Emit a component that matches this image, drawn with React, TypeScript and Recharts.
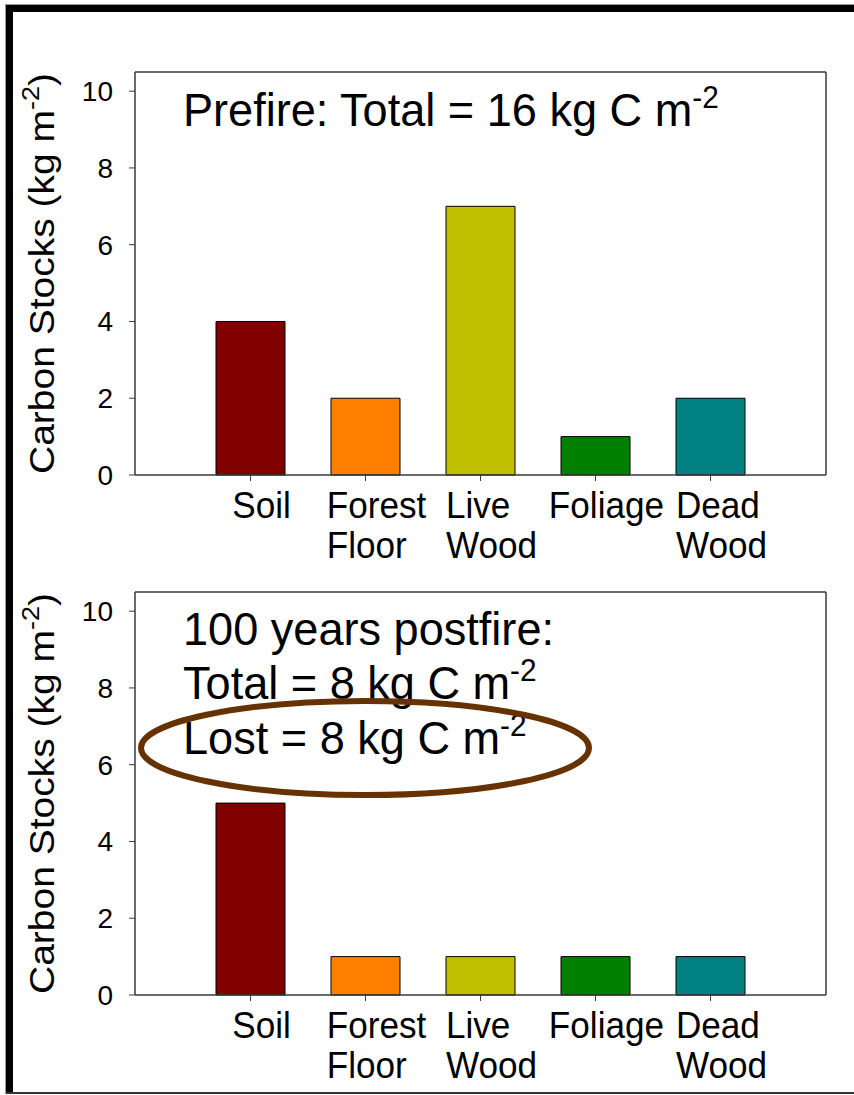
import React from 'react';
import { BarChart, Bar, XAxis, YAxis, Cell } from 'recharts';

// Carbon pools and their stocks (kg C m-2)
const categories = ['Soil', 'Forest Floor', 'Live Wood', 'Foliage', 'Dead Wood'];
const prefireStocks = [4, 2, 7, 1, 2];
const postfireStocks = [5, 1, 1, 1, 1];
const poolColors = ['#800000', '#FF8000', '#C0C000', '#008000', '#008080'];
const yTicks = [0, 2, 4, 6, 8, 10];
const yDomainMax = 10.5;

const FONT = "'Liberation Sans', Arial, Helvetica, sans-serif";
const AXIS_COLOR = '#3a3a3a';
// horizontal condensing applied to the large slide lettering
const TITLE_NARROW = 0.96;
const LABEL_NARROW = 0.95;
const LABEL_SIZE = 37;

let measureCtx: CanvasRenderingContext2D | null = null;
const textWidth = (s: string) => {
  if (typeof document === 'undefined') return s.length * LABEL_SIZE * 0.55;
  if (!measureCtx) measureCtx = document.createElement('canvas').getContext('2d');
  if (!measureCtx) return s.length * LABEL_SIZE * 0.55;
  measureCtx.font = `${LABEL_SIZE}px ${FONT}`;
  return measureCtx.measureText(s).width;
};

// Category label split into stacked words; lines share a left edge and
// the block sits just right of the tick
const CategoryTick = (props: any) => {
  const { x, y, payload } = props;
  const lines = String(payload.value).split(' ');
  const blockWidth = Math.max(...lines.map(textWidth)) * LABEL_NARROW;
  const left = x + 11 - blockWidth / 2;
  return (
    <text
      transform={`translate(${left} ${y}) scale(${LABEL_NARROW} 1)`}
      x={0}
      y={0}
      fontFamily={FONT}
      fontSize={LABEL_SIZE}
      fill="#000"
      textAnchor="start"
    >
      {lines.map((line, i) => (
        <tspan key={i} x={0} dy={i === 0 ? 35 : 40}>
          {line}
        </tspan>
      ))}
    </text>
  );
};

const renderYLabel = (props: any) => {
  const vb = props.viewBox || { x: 75, y: 72, width: 60, height: 403 };
  const cx = vb.x - 21;
  const cy = vb.y + vb.height / 2;
  return (
    <text
      transform={`translate(${cx} ${cy}) rotate(-90) scale(1 0.9)`}
      x={0}
      y={0}
      textAnchor="middle"
      fontSize={39}
      fontFamily={FONT}
      fill="#000"
    >
      Carbon Stocks (kg m
      <tspan fontSize={27} dy={-17}>
        -2
      </tspan>
      <tspan dy={17}>)</tspan>
    </text>
  );
};

const StockPanel = ({ values, top }: { values: number[]; top: number }) => {
  const data = categories.map((category, i) => ({ category, stock: values[i] }));
  return (
    <div style={{ position: 'absolute', left: 0, top, width: 854, height: 575 }}>
      <BarChart
        width={854}
        height={575}
        data={data}
        margin={{ top: 71, right: 27, bottom: 0, left: 75 }}
      >
        <XAxis
          dataKey="category"
          type="category"
          interval={0}
          padding={{ left: 58, right: 58 }}
          height={100}
          axisLine={{ stroke: AXIS_COLOR, strokeWidth: 1.5 }}
          tickLine={{ stroke: AXIS_COLOR }}
          tickSize={6}
          tickMargin={2}
          tick={<CategoryTick />}
        />
        <XAxis
          xAxisId="frameTop"
          orientation="top"
          dataKey="category"
          height={1}
          tick={false}
          tickLine={false}
          axisLine={{ stroke: AXIS_COLOR, strokeWidth: 1.5 }}
        />
        <YAxis
          domain={[0, yDomainMax]}
          ticks={yTicks}
          interval={0}
          width={60}
          tickSize={6}
          tickMargin={16}
          axisLine={{ stroke: AXIS_COLOR, strokeWidth: 1.5 }}
          tickLine={{ stroke: AXIS_COLOR }}
          tick={{ fontSize: 28, fill: '#000', fontFamily: FONT }}
          label={renderYLabel}
        />
        <YAxis
          yAxisId="frameRight"
          orientation="right"
          domain={[0, yDomainMax]}
          width={1}
          tick={false}
          tickLine={false}
          axisLine={{ stroke: AXIS_COLOR, strokeWidth: 1.5 }}
        />
        <Bar dataKey="stock" barSize={69} stroke="#000" strokeWidth={1} isAnimationActive={false}>
          {data.map((d, i) => (
            <Cell key={d.category} fill={poolColors[i]} />
          ))}
        </Bar>
      </BarChart>
    </div>
  );
};

// A line of slide text with a "-2" exponent at the end
const UnitLine = ({ x, y, text, exponent }: { x: number; y: number; text: string; exponent?: string }) => (
  <text transform={`translate(${x} ${y}) scale(${TITLE_NARROW} 1)`} x={0} y={0} fontSize={47}>
    {text}
    {exponent ? (
      <tspan fontSize={31} dy={-18}>
        {exponent}
      </tspan>
    ) : null}
  </text>
);

export default function App() {
  return (
    <div
      style={{
        position: 'absolute',
        left: 0,
        top: 0,
        width: 854,
        height: 1095,
        background: '#fff',
        overflow: 'hidden',
        fontFamily: FONT,
      }}
    >
      {/* slide frame */}
      <div style={{ position: 'absolute', left: 5, top: 4, width: 849, height: 1, background: '#999' }} />
      <div style={{ position: 'absolute', left: 5, top: 4, width: 1, height: 1090, background: '#999' }} />
      <div style={{ position: 'absolute', left: 6, top: 5, width: 848, height: 7, background: '#000' }} />
      <div style={{ position: 'absolute', left: 6, top: 5, width: 7, height: 1089, background: '#000' }} />
      <div style={{ position: 'absolute', left: 6, top: 1092, width: 848, height: 2, background: '#333' }} />

      <StockPanel values={prefireStocks} top={0} />
      <StockPanel values={postfireStocks} top={520} />

      <svg
        width={854}
        height={1095}
        style={{ position: 'absolute', left: 0, top: 0, pointerEvents: 'none' }}
      >
        <g fontFamily={FONT} fill="#000">
          <UnitLine x={183} y={126} text="Prefire: Total = 16 kg C m" exponent="-2" />
          <UnitLine x={183} y={645} text="100 years postfire:" />
          <UnitLine x={183} y={699} text="Total = 8 kg C m" exponent="-2" />
          <UnitLine x={183} y={754} text="Lost = 8 kg C m" exponent="-2" />
        </g>
        <ellipse cx={365} cy={748} rx={224} ry={47} fill="none" stroke="#663300" strokeWidth={6} />
      </svg>
    </div>
  );
}
